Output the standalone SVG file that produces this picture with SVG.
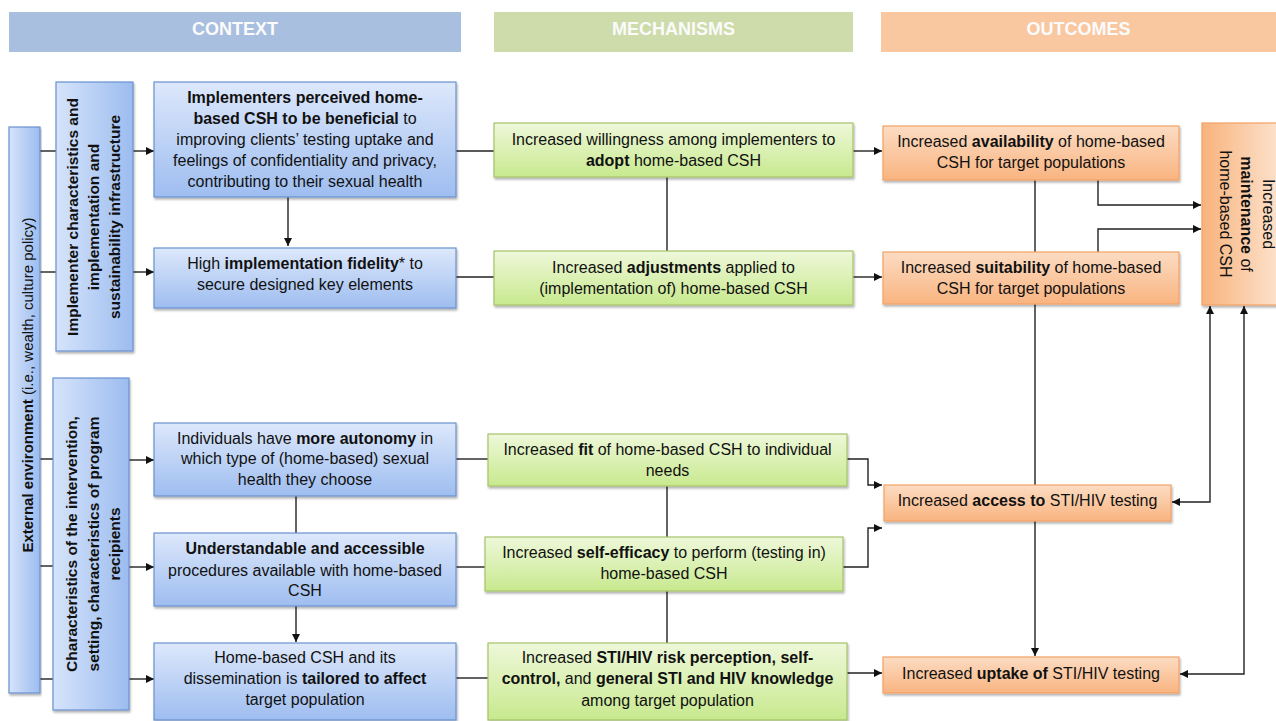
<svg xmlns="http://www.w3.org/2000/svg" width="1276" height="721" viewBox="0 0 1276 721">
<defs>
<linearGradient id="gBlue" x1="0" y1="0" x2="0" y2="1"><stop offset="0" stop-color="#dde8fb"/><stop offset="1" stop-color="#9ebdf0"/></linearGradient>
<linearGradient id="gBlueH" x1="0" y1="0" x2="1" y2="0"><stop offset="0" stop-color="#d6e4fb"/><stop offset="1" stop-color="#9cbcef"/></linearGradient>
<linearGradient id="gGreen" x1="0" y1="0" x2="0" y2="1"><stop offset="0" stop-color="#eef8da"/><stop offset="1" stop-color="#c8e98e"/></linearGradient>
<linearGradient id="gOrange" x1="0" y1="0" x2="0" y2="1"><stop offset="0" stop-color="#fcdcc3"/><stop offset="1" stop-color="#f9b480"/></linearGradient>
<linearGradient id="gOrangeH" x1="0" y1="0" x2="1" y2="0"><stop offset="0" stop-color="#f8b37c"/><stop offset="1" stop-color="#fde4d0"/></linearGradient>
<filter id="sh" x="-5%" y="-5%" width="110%" height="120%"><feDropShadow dx="1" dy="2" stdDeviation="1.2" flood-color="#000" flood-opacity="0.3"/></filter>
<marker id="arr" viewBox="0 0 10 10" refX="10" refY="5" markerWidth="9" markerHeight="8" markerUnits="userSpaceOnUse" orient="auto-start-reverse"><path d="M0,0 L10,5 L0,10 z" fill="#111"/></marker>
</defs>
<style>
.hdr{font-family:"Liberation Sans",Arial,sans-serif;font-size:18px;font-weight:bold;fill:#fbfbfb;text-anchor:middle}
.t{font-family:"Liberation Sans",Arial,sans-serif;font-size:16px;fill:#111;text-anchor:middle}
.vt{font-family:"Liberation Sans",Arial,sans-serif;font-size:15.5px;font-weight:bold;fill:#111;text-anchor:middle}
.b{font-weight:bold}
.blue{fill:url(#gBlue);stroke:#6a92cf;stroke-width:1.2;filter:url(#sh)}
.blueH{fill:url(#gBlueH);stroke:#6a92cf;stroke-width:1.2;filter:url(#sh)}
.green{fill:url(#gGreen);stroke:#a6c46a;stroke-width:1.2;filter:url(#sh)}
.orange{fill:url(#gOrange);stroke:#f2a266;stroke-width:1.2;filter:url(#sh)}
.orangeH{fill:url(#gOrangeH);stroke:#f2a266;stroke-width:1.2;filter:url(#sh)}
.c{fill:none;stroke:#222;stroke-width:1.4}
.a{fill:none;stroke:#222;stroke-width:1.4;marker-end:url(#arr)}
.aa{fill:none;stroke:#222;stroke-width:1.4;marker-end:url(#arr);marker-start:url(#arr)}
</style>
<rect width="1276" height="721" fill="#ffffff"/>

<g id="headers">
<rect x="9" y="12" width="452" height="40" fill="#a8bfdf"/>
<text class="hdr" x="235" y="35">CONTEXT</text>
<rect x="494" y="12" width="359" height="40" fill="#cddcaa"/>
<text class="hdr" x="673.5" y="35">MECHANISMS</text>
<rect x="881" y="12" width="395" height="40" fill="#f9c8a1"/>
<text class="hdr" x="1078.5" y="35">OUTCOMES</text>
</g>

<g id="connectors">
<path class="c" d="M40,151 H56"/>
<path class="c" d="M40,272 H56"/>
<path class="c" d="M40,459 H53"/>
<path class="c" d="M40,566 H53"/>
<path class="c" d="M40,679 H53"/>
<path class="a" d="M133,151 H154"/>
<path class="a" d="M133,272 H154"/>
<path class="a" d="M129,460 H154"/>
<path class="a" d="M129,567 H154"/>
<path class="a" d="M129,679 H154"/>
<path class="a" d="M288,197 V246"/>
<path class="c" d="M296,496 V533"/>
<path class="a" d="M296,606 V642"/>
<path class="c" d="M456,151 H494"/>
<path class="c" d="M456,277 H494"/>
<path class="c" d="M456,459 H488"/>
<path class="c" d="M456,567 H485"/>
<path class="c" d="M456,678 H488"/>
<path class="c" d="M667,177 V251"/>
<path class="c" d="M667,486 V537"/>
<path class="c" d="M667,591 V643"/>
<path class="a" d="M853,151 H882"/>
<path class="a" d="M853,277 H882"/>
<path class="a" d="M847,459 H868 V485 H882"/>
<path class="a" d="M843,567 H868 V528 H882"/>
<path class="a" d="M847,673 H882"/>
<path class="c" d="M1035,180 V252"/>
<path class="c" d="M1035,304 V485"/>
<path class="a" d="M1035,521 V656"/>
<path class="a" d="M1098,180 V205 H1201"/>
<path class="a" d="M1098,252 V229 H1201"/>
<path class="aa" d="M1210,306 V502 H1172"/>
<path class="aa" d="M1244,306 V674 H1180"/>
</g>

<g id="external">
<rect class="blueH" x="9" y="127" width="31" height="566"/>
<text class="vt" style="font-size:15px;font-weight:normal" transform="translate(33,385) rotate(-90)"><tspan class="b">External environment</tspan> (i.e., wealth, culture policy)</text>
</g>

<g id="implementer">
<rect class="blueH" x="56" y="82" width="77" height="269"/>
<text class="vt" transform="translate(0,217) rotate(-90)"><tspan x="0" y="78">Implementer characteristics and</tspan><tspan x="0" y="99">implementation and</tspan><tspan x="0" y="120">sustainability infrastructure</tspan></text>
</g>

<g id="characteristics">
<rect class="blueH" x="53" y="378" width="76" height="332"/>
<text class="vt" transform="translate(0,544) rotate(-90)"><tspan x="0" y="77">Characteristics of the intervention,</tspan><tspan x="0" y="98.5">setting, characteristics of program</tspan><tspan x="0" y="120">recipients</tspan></text>
</g>

<g id="ctx1">
<rect class="blue" x="154" y="82" width="302" height="115"/>
<text class="t"><tspan x="305" y="103" class="b">Implementers perceived home-</tspan><tspan x="305" y="124"><tspan class="b">based CSH to be beneficial</tspan> to</tspan><tspan x="305" y="145">improving clients’ testing uptake and</tspan><tspan x="305" y="166">feelings of confidentiality and privacy,</tspan><tspan x="305" y="187">contributing to their sexual health</tspan></text>
</g>

<g id="ctx2">
<rect class="blue" x="154" y="248" width="302" height="60"/>
<text class="t"><tspan x="305" y="269">High <tspan class="b">implementation fidelity</tspan>* to</tspan><tspan x="305" y="290">secure designed key elements</tspan></text>
</g>

<g id="ctx3">
<rect class="blue" x="154" y="423" width="302" height="73"/>
<text class="t"><tspan x="305" y="444">Individuals have <tspan class="b">more autonomy</tspan> in</tspan><tspan x="305" y="464">which type of (home-based) sexual</tspan><tspan x="305" y="485">health they choose</tspan></text>
</g>

<g id="ctx4">
<rect class="blue" x="154" y="533" width="302" height="73"/>
<text class="t"><tspan x="305" y="554" class="b">Understandable and accessible</tspan><tspan x="305" y="576">procedures available with home-based</tspan><tspan x="305" y="596">CSH</tspan></text>
</g>

<g id="ctx5">
<rect class="blue" x="154" y="643" width="302" height="77"/>
<text class="t"><tspan x="305" y="663">Home-based CSH and its</tspan><tspan x="305" y="684">dissemination is <tspan class="b">tailored to affect</tspan></tspan><tspan x="305" y="705">target population</tspan></text>
</g>

<g id="mech1">
<rect class="green" x="494" y="123" width="359" height="54"/>
<text class="t"><tspan x="673.5" y="145">Increased willingness among implementers to</tspan><tspan x="673.5" y="166"><tspan class="b">adopt</tspan> home-based CSH</tspan></text>
</g>

<g id="mech2">
<rect class="green" x="494" y="251" width="359" height="54"/>
<text class="t"><tspan x="673.5" y="273">Increased <tspan class="b">adjustments</tspan> applied to</tspan><tspan x="673.5" y="294">(implementation of) home-based CSH</tspan></text>
</g>

<g id="mech3">
<rect class="green" x="488" y="434" width="359" height="52"/>
<text class="t"><tspan x="667.5" y="455">Increased <tspan class="b">fit</tspan> of home-based CSH to individual</tspan><tspan x="667.5" y="476">needs</tspan></text>
</g>

<g id="mech4">
<rect class="green" x="485" y="537" width="358" height="54"/>
<text class="t"><tspan x="664" y="558">Increased <tspan class="b">self-efficacy</tspan> to perform (testing in)</tspan><tspan x="664" y="579">home-based CSH</tspan></text>
</g>

<g id="mech5">
<rect class="green" x="488" y="643" width="359" height="77"/>
<text class="t"><tspan x="667.5" y="663">Increased <tspan class="b">STI/HIV risk perception, self-</tspan></tspan><tspan x="667.5" y="684"><tspan class="b">control,</tspan> and <tspan class="b">general STI and HIV knowledge</tspan></tspan><tspan x="667.5" y="706">among target population</tspan></text>
</g>

<g id="out1">
<rect class="orange" x="883" y="126" width="296" height="54"/>
<text class="t"><tspan x="1031" y="147">Increased <tspan class="b">availability</tspan> of home-based</tspan><tspan x="1031" y="168">CSH for target populations</tspan></text>
</g>

<g id="out2">
<rect class="orange" x="883" y="252" width="296" height="52"/>
<text class="t"><tspan x="1031" y="273">Increased <tspan class="b">suitability</tspan> of home-based</tspan><tspan x="1031" y="294">CSH for target populations</tspan></text>
</g>

<g id="out3">
<rect class="orange" x="884" y="485" width="287" height="36"/>
<text class="t" x="1027.5" y="506">Increased <tspan class="b">access to</tspan> STI/HIV testing</text>
</g>

<g id="out4">
<rect class="orange" x="883" y="657" width="296" height="36"/>
<text class="t" x="1031" y="679">Increased <tspan class="b">uptake of</tspan> STI/HIV testing</text>
</g>

<g id="out5">
<rect class="orangeH" x="1202" y="123" width="80" height="182"/>
<text class="t" transform="translate(1241,214) rotate(90)"><tspan x="0" y="-22">Increased</tspan><tspan x="0" y="0"><tspan class="b">maintenance</tspan> of</tspan><tspan x="0" y="21">home-based CSH</tspan></text>
</g>
</svg>
